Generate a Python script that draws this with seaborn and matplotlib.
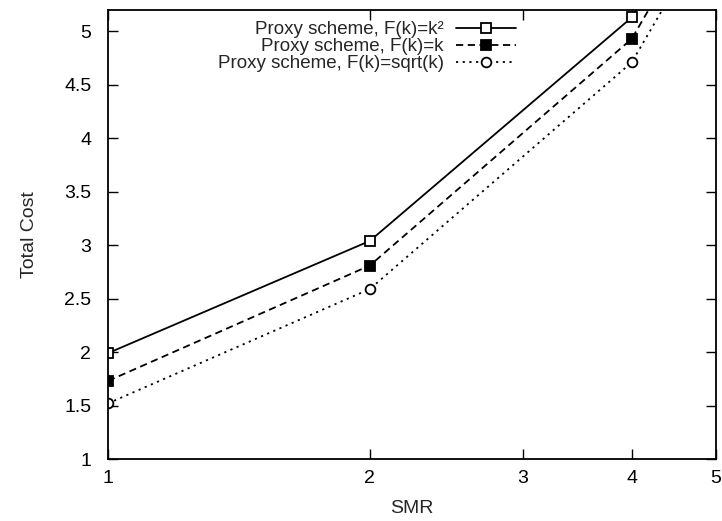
import matplotlib
matplotlib.use("Agg")
import matplotlib.pyplot as plt
import seaborn as sns
import pandas as pd
from matplotlib.ticker import FixedLocator, FixedFormatter, NullLocator

smr = [1, 2, 4, 8]
cost_k2 = [1.99, 3.04, 5.13, 9.33]
cost_k = [1.73, 2.81, 4.93, 9.13]
cost_sqrt = [1.52, 2.59, 4.71, 8.91]
labels = ["Proxy scheme, F(k)=k\u00b2", "Proxy scheme, F(k)=k", "Proxy scheme, F(k)=sqrt(k)"]
xticks = [1, 2, 3, 4, 5]
yticks = [1, 1.5, 2, 2.5, 3, 3.5, 4, 4.5, 5]

sns.set_style("ticks")
plt.rcParams['font.family'] = ['Liberation Sans', 'DejaVu Sans']
FS = 14
LFS = 13.5

df = pd.DataFrame({
    "SMR": smr * 3,
    "cost": cost_k2 + cost_k + cost_sqrt,
    "series": [labels[0]] * len(smr) + [labels[1]] * len(smr) + [labels[2]] * len(smr),
})

fig = plt.figure(figsize=(7.22, 5.21), dpi=100)
ax = fig.add_axes([108/722, 1 - 459/521, (716-108)/722, (459-10)/521])

styles = [("-", "s", "white"), ((0, (4, 2.5)), "s", "black"), ((0, (1.2, 2.5)), "o", "white")]
for lab, (ls, mk, mfc) in zip(labels, styles):
    sub = df[df["series"] == lab]
    sns.lineplot(data=sub, x="SMR", y="cost", ax=ax, color="black", linewidth=1.3,
                 linestyle=ls, marker=mk, markersize=7, markerfacecolor=mfc,
                 markeredgecolor="black", markeredgewidth=1.3, label=lab)

ax.set_xscale("log")
ax.set_xlim(1, 5)
ax.set_ylim(1, 5.2)
ax.xaxis.set_major_locator(FixedLocator(xticks))
ax.xaxis.set_major_formatter(FixedFormatter([str(v) for v in xticks]))
ax.xaxis.set_minor_locator(NullLocator())
ax.set_yticks(yticks)
ax.set_yticklabels(["1", "1.5", "2", "2.5", "3", "3.5", "4", "4.5", "5"])
ax.tick_params(direction="in", length=7, width=1, top=True, right=True, labelsize=FS, colors="black")
ax.tick_params(axis="x", pad=8)
ax.tick_params(axis="y", pad=12)
for s in ax.spines.values():
    s.set_linewidth(1.3)
    s.set_color("black")
ax.set_xlabel("SMR", fontsize=FS, labelpad=9)
ax.set_ylabel("Total Cost", fontsize=FS, labelpad=19)

leg = ax.legend(loc="upper right", bbox_to_anchor=(516/722, 1 - 21/521), bbox_transform=fig.transFigure,
                frameon=False, markerfirst=False, fontsize=LFS, handlelength=3.2,
                handletextpad=0.65, labelspacing=0.0, borderpad=0, borderaxespad=0)
fig.savefig("out.png", dpi=100)
